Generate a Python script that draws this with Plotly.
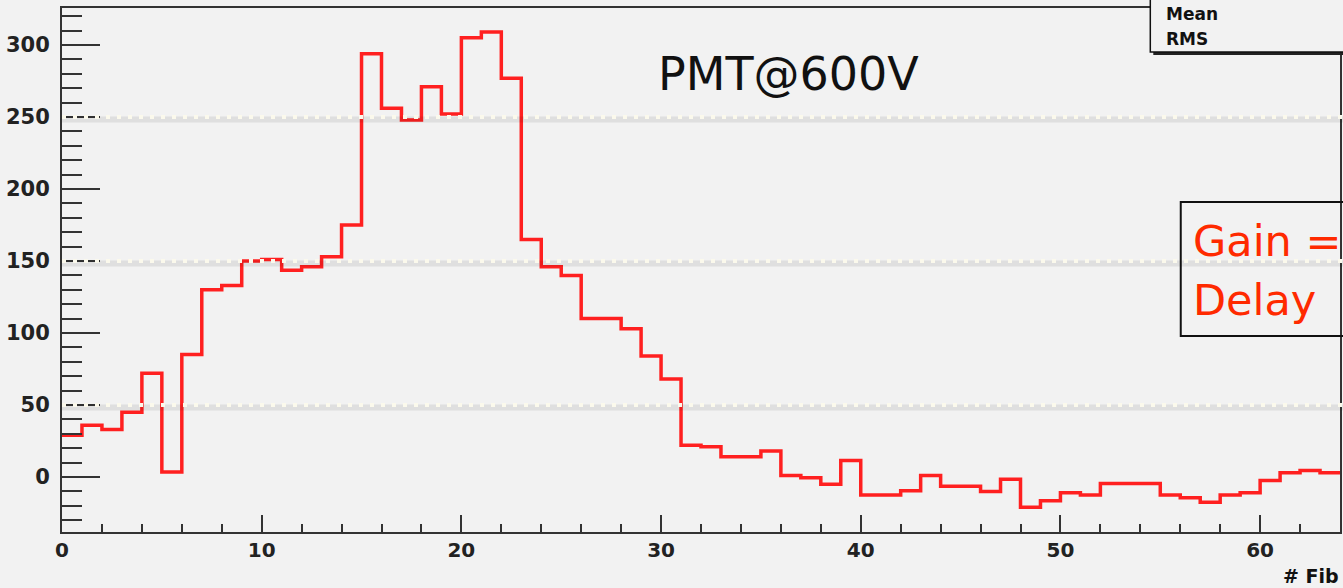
import plotly.graph_objects as go

# ---------------- data ----------------
bin_low_edges = list(range(64))          # histogram bins, width 1, from 0 to 64
counts = [29, 36, 33, 45, 72, 3.5, 85, 130, 133, 150,
          151, 143.5, 146, 153, 175, 294, 256, 248, 271, 252,
          305, 309, 277, 165, 146, 140, 110, 110, 103, 84,
          68, 22, 21, 14, 14, 18, 1, -0.5, -5, 11.5,
          -12.5, -12.5, -9.5, 1, -6.5, -6.5, -10, -1.5, -21, -16.5,
          -11, -12.5, -4.5, -4.5, -4.5, -12.5, -14.5, -17.5, -12.5, -11,
          -2.5, 3, 4.5, 3]
x_ticks = [0, 10, 20, 30, 40, 50, 60]
y_ticks = [0, 50, 100, 150, 200, 250, 300]
overlay_levels = [50, 150, 250]          # dotted slide guide lines
x_title = "# Fib"                        # axis title as visible (cut by the frame edge)
plot_label = "PMT@600V"
stat_names = ["Mean", "RMS"]
fit_lines = ["Gain =", "Delay"]

# ---------------- geometry helpers ----------------
W, H = 1343, 588
L, R, T, B = 62, 1, 8, 56
PW, PH = W - L - R, H - T - B
def px(xp):
    return (xp - L) / PW
def py(yp):
    return (H - B - yp) / PH

BG = "#f2f2f2"
FRAME = "#333333"
RED = "#ff2020"
ROOT_FONT = "DejaVu Sans"

xs = bin_low_edges + [bin_low_edges[-1] + 1]
ys = counts + [counts[-1]]

fig = go.Figure()
fig.add_trace(go.Scatter(x=xs, y=ys, mode="lines", line_shape="hv",
                         line=dict(color=RED, width=3.5), hoverinfo="skip",
                         showlegend=False))

fig.update_layout(
    width=W, height=H,
    margin=dict(l=L, r=R, t=T, b=B, pad=0),
    paper_bgcolor=BG, plot_bgcolor=BG,
    showlegend=False,
    xaxis=dict(range=[0, 64], tickvals=x_ticks, ticks="inside", ticklen=17,
               tickwidth=2, tickcolor=FRAME, showgrid=False, zeroline=False,
               showline=True, linecolor=FRAME, linewidth=2, mirror=True,
               ticklabelstandoff=-1,
               tickfont=dict(family=ROOT_FONT, size=20, color="#222", weight="bold"),
               minor=dict(dtick=2, ticks="inside", ticklen=8, tickwidth=2,
                          tickcolor=FRAME, showgrid=False)),
    yaxis=dict(range=[-38.2, 325.7], tickvals=y_ticks, ticks="inside", ticklen=38,
               tickwidth=2, tickcolor=FRAME, showgrid=False, zeroline=False,
               showline=True, linecolor=FRAME, linewidth=2, mirror=True,
               ticklabelstandoff=6,
               tickfont=dict(family=ROOT_FONT, size=21, color="#222", weight="bold"),
               minor=dict(dtick=10, ticks="inside", ticklen=20, tickwidth=2,
                          tickcolor=FRAME, showgrid=False)),
)

shapes = []
# dotted guide lines with soft shadow (drawn above the histogram)
for lv in overlay_levels:
    shapes.append(dict(type="line", xref="paper", yref="y", x0=0, x1=px(W + 5),
                       y0=lv - 1.8, y1=lv - 1.8, layer="above",
                       line=dict(color="rgba(0,0,0,0.08)", width=6)))
    shapes.append(dict(type="line", xref="paper", yref="y", x0=0, x1=px(W + 5),
                       y0=lv, y1=lv, layer="above",
                       line=dict(color="#fbf9ec", width=4, dash="4px,7px")))
# stats box with shadow
shapes.append(dict(type="rect", xref="paper", yref="paper",
                   x0=px(1155), x1=px(W + 20), y0=py(55), y1=py(-20), layer="above",
                   fillcolor="#222", line=dict(width=0)))
shapes.append(dict(type="rect", xref="paper", yref="paper",
                   x0=px(1152), x1=px(W + 20), y0=py(52), y1=py(-20), layer="above",
                   fillcolor=BG, line=dict(color="#111", width=1.5)))
# fit result box
shapes.append(dict(type="rect", xref="paper", yref="paper",
                   x0=px(1182.5), x1=px(W + 20), y0=py(336), y1=py(202), layer="above",
                   fillcolor="rgba(0,0,0,0)", line=dict(color="#111", width=2)))
fig.update_layout(shapes=shapes)

ann = []
ann.append(dict(text=plot_label, xref="paper", yref="paper", x=px(657), y=py(74),
                xanchor="left", yanchor="middle", showarrow=False,
                font=dict(family=ROOT_FONT, size=46, color="#111")))
for i, t in enumerate(stat_names):
    ann.append(dict(text=t, xref="paper", yref="paper", x=px(1166), y=py(14 + 25 * i),
                    xanchor="left", yanchor="middle", showarrow=False,
                    font=dict(family=ROOT_FONT, size=17, color="#111", weight="bold")))
for i, t in enumerate(fit_lines):
    ann.append(dict(text=t, xref="paper", yref="paper", x=px(1193), y=py(241 + 59 * i),
                    xanchor="left", yanchor="middle", showarrow=False,
                    font=dict(family=ROOT_FONT, size=43, color="#ff2a00")))
ann.append(dict(text=x_title, xref="paper", yref="paper", x=px(1283), y=py(576),
                xanchor="left", yanchor="middle", showarrow=False,
                font=dict(family=ROOT_FONT, size=19, color="#111", weight="bold")))
fig.update_layout(annotations=ann)

fig.write_html("out.html", config={"displayModeBar": False},
               post_script="document.body.style.margin='0';document.body.style.overflow='hidden';")
